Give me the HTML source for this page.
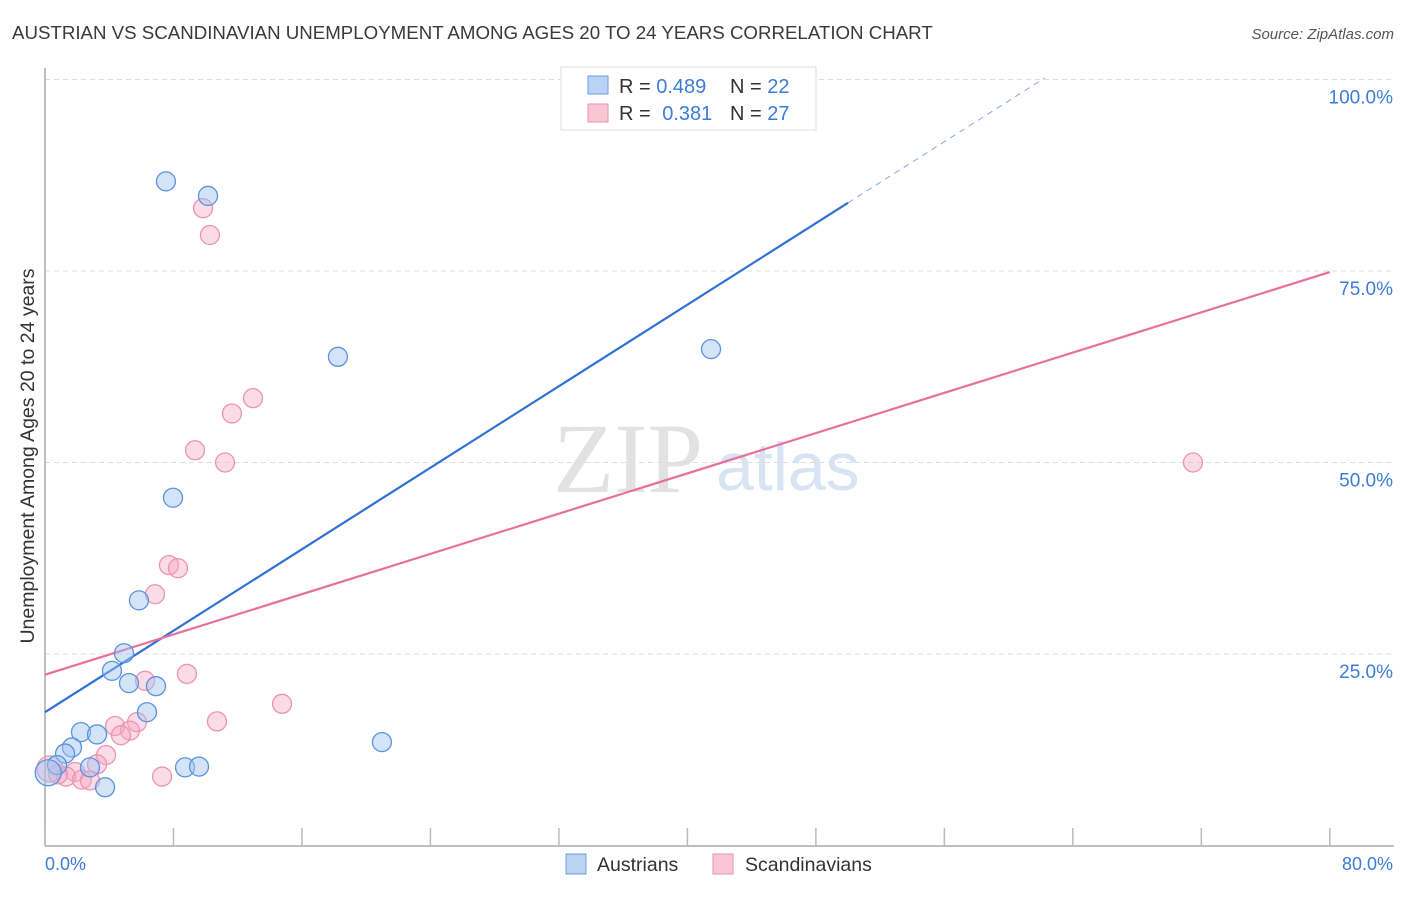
<!DOCTYPE html>
<html><head><meta charset="utf-8"><style>
body{margin:0;background:#fff;font-family:"Liberation Sans",sans-serif;}
svg text{font-family:"Liberation Sans",sans-serif;}
svg text.serif{font-family:"Liberation Serif",serif;}
</style></head><body>
<svg width="1406" height="892">
<text x="12" y="39" font-size="18.7" fill="#3a3a3a">AUSTRIAN VS SCANDINAVIAN UNEMPLOYMENT AMONG AGES 20 TO 24 YEARS CORRELATION CHART</text>
<text x="1394" y="39" font-size="15" fill="#555" text-anchor="end" font-style="italic">Source: ZipAtlas.com</text>
<text x="553" y="492" font-size="100" fill="#e2e2e2" class="serif">ZIP</text>
<text x="716" y="490" font-size="68" fill="#d8e4f3">atlas</text>
<g id="grid"></g>
<line x1="45" y1="68" x2="45" y2="846" stroke="#aaa" stroke-width="1.5"/>
<line x1="45" y1="846" x2="1394" y2="846" stroke="#aaa" stroke-width="1.5"/>
<g id="xticks"></g>
<text x="34" y="456" font-size="19.5" fill="#333" text-anchor="middle" transform="rotate(-90 34 456)">Unemployment Among Ages 20 to 24 years</text>
<text x="45" y="870" font-size="18" fill="#3b7dd8">0.0%</text>
<text x="1393" y="870" font-size="18" fill="#3b7dd8" text-anchor="end">80.0%</text>
<g id="lines"></g>
<g id="points"></g>
<g>
<rect x="561" y="67" width="255" height="63" fill="#fff" stroke="#ddd"/>
<rect x="588" y="76" width="20" height="18" fill="#b9d3f5" stroke="#6e9fe0"/>
<rect x="588" y="104" width="20" height="18" fill="#f9c6d6" stroke="#eb92b0"/>
<text x="619" y="93" font-size="20" fill="#333">R = <tspan fill="#3b7dd8">0.489</tspan></text>
<text x="730" y="93" font-size="20" fill="#333">N = <tspan fill="#3b7dd8">22</tspan></text>
<text x="619" y="120" font-size="20" fill="#333">R = <tspan fill="#3b7dd8" dx="6">0.381</tspan></text>
<text x="730" y="120" font-size="20" fill="#333">N = <tspan fill="#3b7dd8">27</tspan></text>
</g>
<g>
<rect x="566" y="854" width="20" height="20" fill="#b9d3f5" stroke="#6e9fe0"/>
<text x="597" y="871" font-size="19.5" fill="#333">Austrians</text>
<rect x="713" y="854" width="20" height="20" fill="#f9c6d6" stroke="#eb92b0"/>
<text x="745" y="871" font-size="19.5" fill="#333">Scandinavians</text>
</g>
</svg>
<script>
const yTicks=[25,50,75,100];
const yTickLabels=["25.0%","50.0%","75.0%","100.0%"];
const xTickVals=[0,8,16,24,32,40,48,56,64,72,80];
const austX=[7.53,10.15,18.24,41.47,7.97,5.85,4.92,4.17,5.23,6.91,6.35,2.24,3.24,20.98,1.68,1.25,8.72,9.59,0.75,2.8,3.74,0.2];
const austY=[86.7,84.8,63.8,64.8,45.4,32.0,25.1,22.8,21.2,20.8,17.4,14.8,14.5,13.5,12.8,12.0,10.2,10.3,10.5,10.2,7.6,9.5];
const scanX=[9.84,10.27,12.95,11.64,9.34,11.21,71.48,7.72,8.28,6.85,8.84,6.23,14.76,10.71,5.73,4.36,5.29,4.73,3.80,3.24,1.87,1.31,2.30,2.80,7.29,0.81,0.3];
const scanY=[83.2,79.7,58.4,56.4,51.6,50.0,50.0,36.6,36.2,32.8,22.4,21.5,18.5,16.2,16.1,15.6,15.0,14.4,11.8,10.6,9.6,9.0,8.6,8.5,9.0,9.3,10];
const trendIntercept=[17.4,22.3];
const trendSlope=[1.33,0.657];
const NS="http://www.w3.org/2000/svg";
const xs=v=>45+v*16.06, ys=v=>845.5-v*7.66;
function mk(t,a,p){const e=document.createElementNS(NS,t);for(const k in a)e.setAttribute(k,a[k]);p.appendChild(e);return e;}
const grid=document.getElementById('grid');
yTicks.forEach((v,i)=>{
 const l=mk('line',{x1:45,x2:1394,y1:ys(v),y2:ys(v),stroke:'#ddd','stroke-dasharray':'5,4'},grid);
 
 
 const t=mk('text',{x:1393,y:ys(v)+24,'font-size':19,fill:'#3b7dd8','text-anchor':'end'},grid);
 t.textContent=yTickLabels[i];
 
 
});
const xt=document.getElementById('xticks');
xTickVals.forEach(v=>{
 const l=mk('line',{x1:xs(v),x2:xs(v),y1:828,y2:846,stroke:'#bbb','stroke-width':1.5},xt);
 
 
});
const lines=document.getElementById('lines');
const colors=['#2f6fd6','#e8709a'];
[0,1].forEach(i=>{
 const b=trendIntercept[i],m=trendSlope[i];
 const xe=i==0?50:80;
 const l=mk('line',{x1:xs(0),y1:ys(b),x2:xs(xe),y2:ys(b+m*xe),stroke:colors[i],'stroke-width':2.2},lines);
 
 
 if(i==0){const x2=(100.2-b)/m;
  const d=mk('line',{x1:xs(50),y1:ys(b+m*50),x2:xs(x2),y2:ys(b+m*x2),stroke:colors[i],'stroke-width':1,'stroke-dasharray':'6,5',opacity:0.6},lines);
  
  }
});
const pts=document.getElementById('points');
scanX.forEach((x,i)=>{
 const r=i==scanX.length-1?13:9.5;
 const c=mk('circle',{cx:xs(x),cy:ys(scanY[i]),r:r,fill:'rgba(244,166,192,0.4)',stroke:'#ec94b2','stroke-width':1.3},pts);
 
 
});
austX.forEach((x,i)=>{
 const r=i==austX.length-1?13:9.5;
 const c=mk('circle',{cx:xs(x),cy:ys(austY[i]),r:r,fill:'rgba(160,196,240,0.45)',stroke:'#5b93dc','stroke-width':1.3},pts);
 
 
});
</script>
</body></html>
